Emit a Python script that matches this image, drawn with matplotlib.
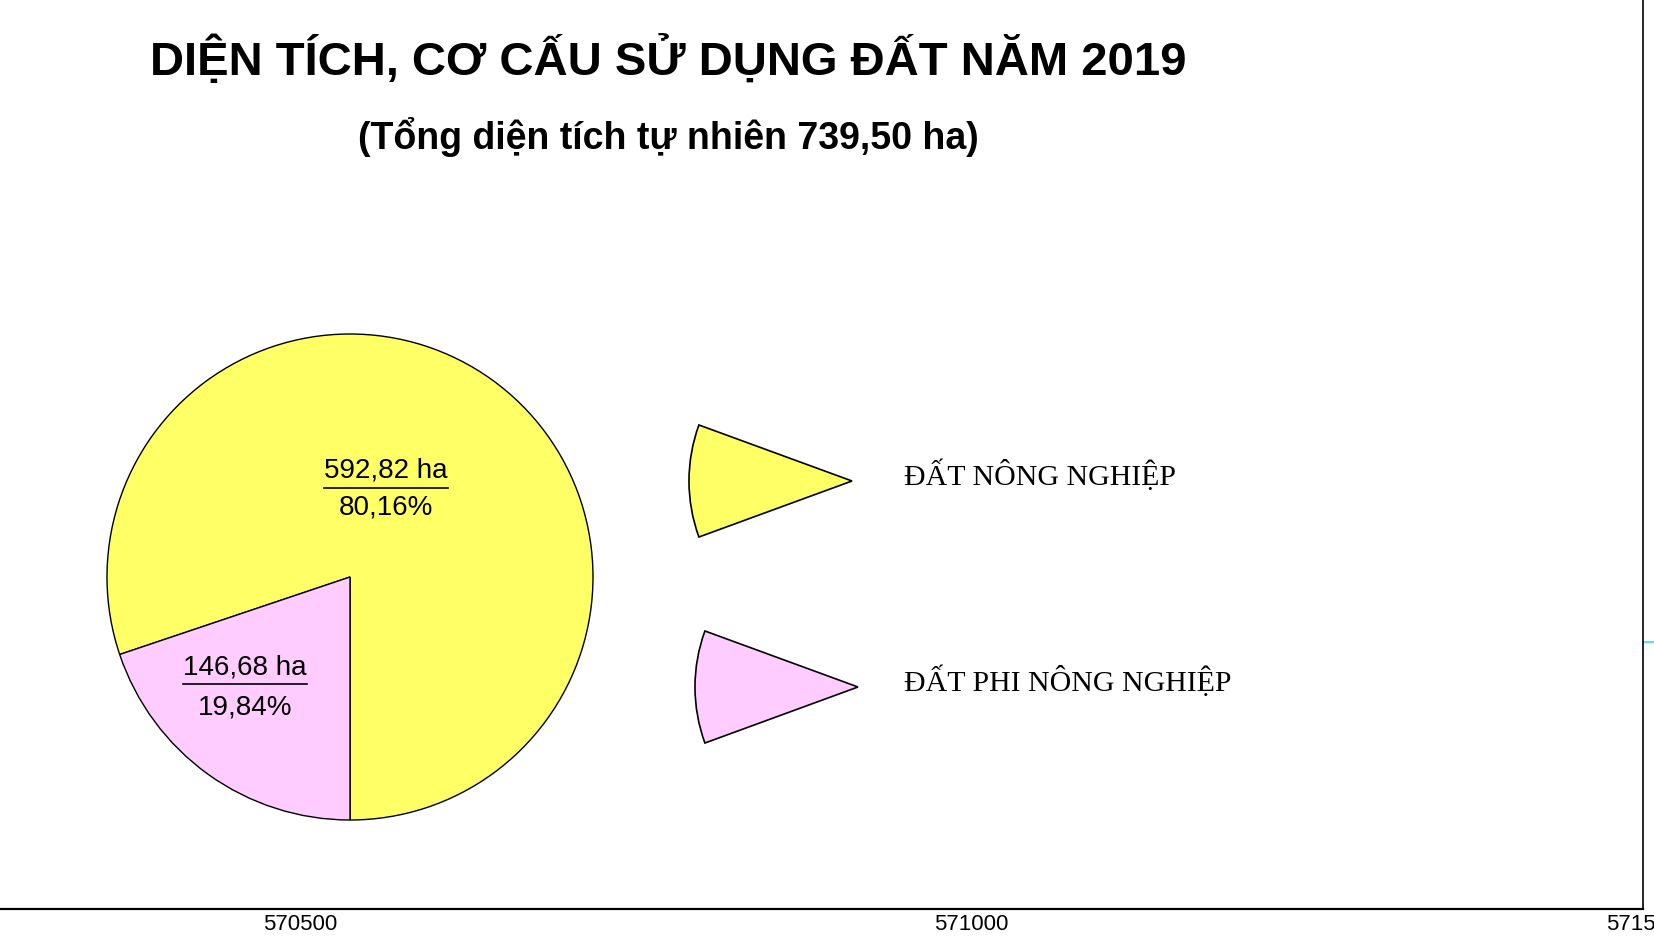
import matplotlib.pyplot as plt
from matplotlib.patches import Wedge

# data
categories = ['ĐẤT NÔNG NGHIỆP', 'ĐẤT PHI NÔNG NGHIỆP']
areas = [592.82, 146.68]
percents = ['80,16%', '19,84%']
area_labels = ['592,82 ha', '146,68 ha']
colors = ['#FFFF66', '#FFCCFF']
x_ticks = [570500, 571000, 571500]

W, H = 1654, 946
fig = plt.figure(figsize=(W / 100, H / 100), dpi=100)
fig.patch.set_facecolor('white')

# map frame (coordinate axis at the bottom / right)
ax = fig.add_axes([0, 37 / H, 1643 / W, 1 - 37 / H])
ax.set_xlim(570276.5, 571500)
ax.set_ylim(0, 1)
ax.set_xticks(x_ticks)
ax.set_xticklabels([str(t) for t in x_ticks], fontsize=16, family='Liberation Sans')
ax.tick_params(axis='x', length=0, pad=3.5)
ax.yaxis.tick_right()
ax.set_yticks([0.2937])
ax.set_yticklabels([])
ax.tick_params(axis='y', length=8, color='#33DDEE', width=1.2, direction='out')
ax.spines['left'].set_visible(False)
ax.spines['top'].set_visible(False)
ax.spines['bottom'].set_linewidth(1.6)
ax.spines['right'].set_linewidth(1.2)
ax.set_facecolor('none')

# pie
axp = fig.add_axes([107 / W, (H - 577 - 243) / H, 486 / W, 486 / H])
axp.pie(areas, colors=colors, startangle=270, counterclock=True,
        wedgeprops=dict(edgecolor='black', linewidth=1.0))
axp.set_xlim(-1, 1)
axp.set_ylim(-1, 1)
axp.axis('off')

label_pos = [(0.148, 0.41, 0.366, 0.284), (-0.432, -0.403, -0.44, -0.535)]
fig.canvas.draw()
renderer = fig.canvas.get_renderer()
for (x, yb, yl, yp), top, bottom in zip(label_pos, area_labels, percents):
    t = axp.text(x, yb, top, ha='center', va='baseline', fontsize=20,
                 family='Liberation Sans')
    axp.text(x, yp, bottom, ha='center', va='center', fontsize=20,
             family='Liberation Sans')
    bb = t.get_window_extent(renderer).transformed(axp.transData.inverted())
    axp.plot([bb.x0, bb.x1], [yl, yl], color='black', linewidth=1.2)

# legend
axl = fig.add_axes([0, 0, 1, 1])
axl.set_xlim(0, W)
axl.set_ylim(H, 0)
axl.axis('off')
for i, (name, c) in enumerate(zip(categories, colors)):
    tip_x = 852 + 6 * i
    tip_y = 481 + 206 * i
    axl.add_patch(Wedge((tip_x, tip_y), 163, 159.9, 200.1,
                        facecolor=c, edgecolor='black', linewidth=1.2))
    axl.text(904, tip_y - 6, name, ha='left', va='center', fontsize=21.5,
             family='Liberation Serif')

# titles
fig.text(668 / W, 1 - 75 / H, 'DIỆN TÍCH, CƠ CẤU SỬ DỤNG ĐẤT NĂM 2019',
         ha='center', va='baseline', fontsize=34, fontweight='bold',
         family='Liberation Sans')
fig.text(668 / W, 1 - 149 / H, '(Tổng diện tích tự nhiên 739,50 ha)',
         ha='center', va='baseline', fontsize=27, fontweight='bold',
         family='Liberation Sans')

fig.savefig('out.png', dpi=100)
